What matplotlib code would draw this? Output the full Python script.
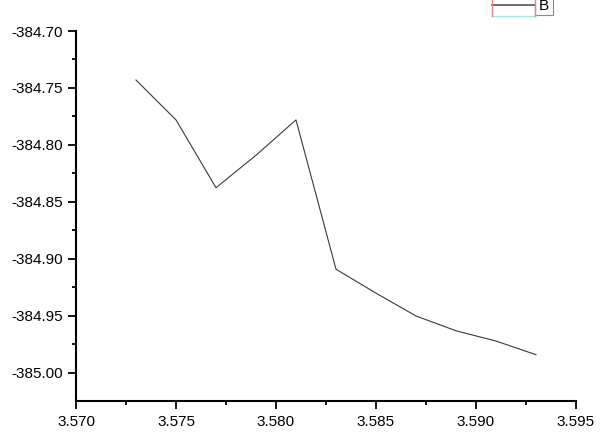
import matplotlib

matplotlib.use("Agg")
import matplotlib.pyplot as plt
from matplotlib.lines import Line2D
from matplotlib.patches import Rectangle
from matplotlib.ticker import MultipleLocator, FormatStrFormatter

# values
x_values = [3.573, 3.575, 3.577, 3.579, 3.581, 3.583, 3.585, 3.587, 3.589, 3.591, 3.593]
y_values = [-384.743, -384.778, -384.8375, -384.809, -384.778, -384.909,
            -384.930, -384.950, -384.963, -384.972, -384.984]
series_label = "B"
x_limits = (3.570, 3.595)
y_limits = (-385.0246, -384.70)

W, H = 600, 442
plt.rcParams["font.family"] = ["Liberation Sans", "DejaVu Sans"]
plt.rcParams["font.size"] = 11

fig = plt.figure(figsize=(W / 100, H / 100), dpi=100)
ax = fig.add_axes([76 / W, 41 / H, 500 / W, 370 / H])

ax.plot(x_values, y_values, color="#3a3a3a", linewidth=0.8)

ax.set_xlim(*x_limits)
ax.set_ylim(*y_limits)
ax.xaxis.set_major_locator(MultipleLocator(0.005))
ax.xaxis.set_minor_locator(MultipleLocator(0.0025))
ax.yaxis.set_major_locator(MultipleLocator(0.05))
ax.yaxis.set_minor_locator(MultipleLocator(0.025))
ax.xaxis.set_major_formatter(FormatStrFormatter("%.3f"))
ax.yaxis.set_major_formatter(FormatStrFormatter("%.2f"))

for side in ("top", "right"):
    ax.spines[side].set_visible(False)
for side in ("left", "bottom"):
    ax.spines[side].set_linewidth(1.5)
    ax.spines[side].set_color("black")

ax.tick_params(which="major", direction="out", length=5.5, width=1.3, labelsize=11)
ax.tick_params(axis="x", which="major", pad=4.5)
ax.tick_params(axis="y", which="major", pad=4)
ax.tick_params(which="minor", direction="out", length=3, width=1.3)

# clipped legend in the top right corner
def px(x, y):
    return x / W, 1 - y / H

fig.add_artist(Rectangle(px(535, 15), 18 / W, 17 / H, transform=fig.transFigure,
                         facecolor="white", edgecolor="#888888", linewidth=0.8))
fig.add_artist(Line2D([492 / W, 535 / W], [px(0, 5)[1]] * 2, transform=fig.transFigure,
                      color="#555555", linewidth=1.2))
fig.add_artist(Line2D([492 / W, 535 / W], [px(0, 15.5)[1]] * 2, transform=fig.transFigure,
                      color="#9ee6e6", linewidth=1.0))
for xv in (492, 535):
    fig.add_artist(Line2D([xv / W] * 2, [px(0, 0)[1] + 0.01, px(0, 15.5)[1]],
                          transform=fig.transFigure, color="#d98a8a", linewidth=1.0))
fig.text(543.5 / W, px(0, 6)[1], series_label, ha="center", va="center", fontsize=11)

fig.savefig("out.png", dpi=100)
